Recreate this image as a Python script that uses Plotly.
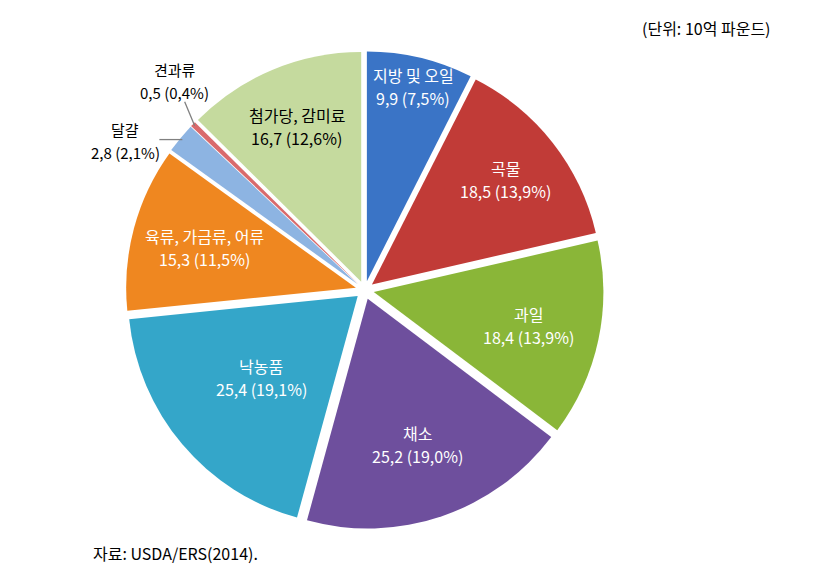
import math
import plotly.graph_objects as go

categories = ["지방 및 오일", "곡물", "과일", "채소", "낙농품", "육류, 가금류, 어류", "달걀", "견과류", "첨가당, 감미료"]
values = [9.9, 18.5, 18.4, 25.2, 25.4, 15.3, 2.8, 0.5, 16.7]
percents = [7.5, 13.9, 13.9, 19.0, 19.1, 11.5, 2.1, 0.4, 12.6]
colors = ["#3a74c6", "#c13b37", "#8ab638", "#6e4f9d", "#34a6c9", "#ef8720", "#8db4e2", "#d96a6c", "#c5da9e"]
text_colors = ["white", "white", "white", "white", "white", "white", "black", "black", "black"]
unit_note = "(단위: 10억 파운드)"
source_note = "자료: USDA/ERS(2014)."

# label placement (style): radius fraction for inside labels, pixel offset for outside ones
label_radius = {"지방 및 오일": 0.91, "곡물": 0.78, "과일": 0.73, "채소": 0.71,
                "낙농품": 0.59, "육류, 가금류, 어류": 0.72, "첨가당, 감미료": 0.77}
outside_offset = {"달걀": (-57, 3), "견과류": (-20, -43)}

W, H = 828, 582
DOM_X = [0.152, 0.729]
DOM_Y = [0.091, 0.912]
PULL = 0.04
FONT = "Noto Sans CJK KR"
FS = 16
LINE_GAP = 11.5

def fmt(v):
    return f"{v:.1f}".replace(".", ",")

fig = go.Figure(go.Pie(
    labels=categories,
    values=values,
    textinfo="none",
    marker=dict(colors=colors, line=dict(width=0)),
    sort=False,
    direction="clockwise",
    rotation=0,
    pull=PULL,
    domain=dict(x=DOM_X, y=DOM_Y),
    showlegend=False,
    hoverinfo="label+value",
))

cx = (DOM_X[0] + DOM_X[1]) / 2 * W
cy = (1 - (DOM_Y[0] + DOM_Y[1]) / 2) * H   # from top
r_px = min((DOM_X[1] - DOM_X[0]) * W, (DOM_Y[1] - DOM_Y[0]) * H) / 2 / (1 + PULL)
total = sum(values)

def add_two_lines(x_px, y_px, name, val, color, size):
    for txt, dy in ((name, -LINE_GAP), (val, LINE_GAP)):
        fig.add_annotation(text=txt, x=x_px / W, y=1 - (y_px + dy) / H,
                           xref="paper", yref="paper", showarrow=False,
                           xanchor="center", yanchor="middle",
                           font=dict(family=FONT, size=size, color=color))

cum = 0.0
for c, v, p, tc in zip(categories, values, percents, text_colors):
    mid = (cum + v / 2) / total * 2 * math.pi
    cum += v
    val_txt = f"{fmt(v)} ({fmt(p)}%)"
    if c in label_radius:
        rr = label_radius[c] * r_px
        add_two_lines(cx + rr * math.sin(mid), cy - rr * math.cos(mid), c, val_txt, tc, FS)
    else:
        rr = r_px * (1 + PULL) * 0.99
        ex, ey = cx + rr * math.sin(mid), cy - rr * math.cos(mid)
        ox, oy = outside_offset[c]
        lx, ly = ex + ox, ey + oy
        if c == "달걀":
            sx, sy = lx + 34, ey
        else:
            sx, sy = lx + 10, ly + 19
        fig.add_shape(type="line", xref="paper", yref="paper",
                      x0=ex / W, y0=1 - ey / H, x1=sx / W, y1=1 - sy / H,
                      line=dict(color="#808080", width=1.3))
        add_two_lines(lx, ly - 2, c, val_txt, tc, 15)

fig.add_annotation(text=unit_note, x=0.933, y=0.952, xref="paper", yref="paper",
                   xanchor="right", yanchor="middle", showarrow=False,
                   font=dict(family=FONT, size=FS, color="black"))
fig.add_annotation(text=source_note, x=0.11, y=0.05, xref="paper", yref="paper",
                   xanchor="left", yanchor="middle", showarrow=False,
                   font=dict(family=FONT, size=FS, color="black"))

fig.update_layout(width=W, height=H, margin=dict(l=0, r=0, t=0, b=0),
                  paper_bgcolor="white", plot_bgcolor="white")
fig.write_html("out.html")
